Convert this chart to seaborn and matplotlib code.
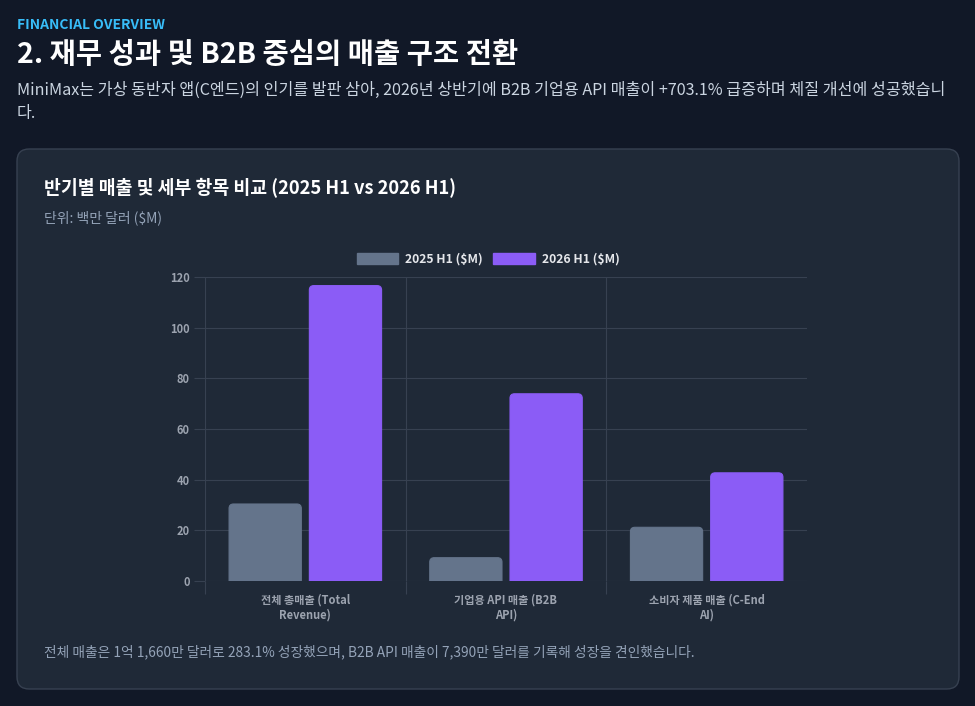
import matplotlib
matplotlib.use("Agg")
import matplotlib.pyplot as plt
from matplotlib.patches import FancyBboxPatch, Patch
import seaborn as sns
import pandas as pd

# data
categories = ["전체 총매출 (Total\nRevenue)", "기업용 API 매출 (B2B\nAPI)", "소비자 제품 매출 (C-End\nAI)"]
series_names = ["2025 H1 ($M)", "2026 H1 ($M)"]
values_2025 = [30.4, 9.2, 21.2]
values_2026 = [116.6, 73.9, 42.7]
y_ticks = [0, 20, 40, 60, 80, 100, 120]

df = pd.DataFrame({
    "category": categories * 2,
    "period": [series_names[0]] * 3 + [series_names[1]] * 3,
    "value": values_2025 + values_2026,
})

BG = "#111827"
CARD = "#1f2937"
GRID = "#374151"
GRAY = "#64748b"
PURPLE = "#8b5cf6"
TICK = "#9ca3af"

sns.set_theme(style="dark")
plt.rcParams["font.family"] = ["Noto Sans CJK KR", "DejaVu Sans"]

W, H = 975, 706
fig = plt.figure(figsize=(W / 100, H / 100), dpi=100, facecolor=BG)

def fx(px):
    return px / W

def fy(py):
    return 1 - py / H

# card background
card = FancyBboxPatch((fx(17), fy(689)), fx(942), 540 / H,
                      boxstyle="round,pad=0,rounding_size=0.0125",
                      mutation_aspect=W / H, transform=fig.transFigure,
                      facecolor=CARD, edgecolor=GRID, linewidth=1, zorder=-5)
fig.patches.append(card)

# header texts
fig.text(fx(17), fy(25), "FINANCIAL OVERVIEW", color="#38bdf8", fontsize=10,
         fontweight="bold", va="center")
fig.text(fx(17), fy(55), "2. 재무 성과 및 B2B 중심의 매출 구조 전환", color="white",
         fontsize=20.5, fontweight="bold", va="center")
fig.text(fx(17), fy(102),
         "MiniMax는 가상 동반자 앱(C엔드)의 인기를 발판 삼아, 2026년 상반기에 B2B 기업용 API 매출이 +703.1% 급증하며 체질 개선에 성공했습니\n다.",
         color="#cbd5e1", fontsize=11.6, va="center", linespacing=1.45)
fig.text(fx(44), fy(188), "반기별 매출 및 세부 항목 비교 (2025 H1 vs 2026 H1)", color="white",
         fontsize=13.2, fontweight="bold", va="center")
fig.text(fx(44), fy(218), "단위: 백만 달러 ($M)", color="#94a3b8", fontsize=10, va="center")
fig.text(fx(44), fy(652),
         "전체 매출은 1억 1,660만 달러로 283.1% 성장했으며, B2B API 매출이 7,390만 달러를 기록해 성장을 견인했습니다.",
         color="#94a3b8", fontsize=9.9, va="center")

# chart
ax = fig.add_axes([fx(205), fy(581), fx(602), 304 / H], zorder=2)
ax.set_facecolor(CARD)
sns.barplot(data=df, x="category", y="value", hue="period",
            palette=[GRAY, PURPLE], width=0.8, gap=0.1, ax=ax, legend=False,
            saturation=1)

ax.set_xlim(-0.5, 2.5)
ax.set_ylim(0, 120)
ax.set_yticks(y_ticks)
ax.set_xlabel("")
ax.set_ylabel("")

# round the top corners of the bars
fig.canvas.draw()
bb = ax.get_window_extent()
aspect = (bb.width / 3) / (bb.height / 120)
for p in list(ax.patches):
    x, w, h = p.get_x(), p.get_width(), p.get_height()
    c = p.get_facecolor()
    p.remove()
    ax.add_patch(FancyBboxPatch((x, -3), w, h + 3,
                                boxstyle="round,pad=0,rounding_size=0.022",
                                mutation_aspect=aspect, facecolor=c,
                                edgecolor=c, linewidth=0.8, zorder=3))

for s in ax.spines.values():
    s.set_visible(False)

ax.set_xticks([-0.5, 0.5, 1.5], minor=True)
ax.grid(axis="y", which="major", color=GRID, linewidth=0.8)
ax.grid(axis="x", which="minor", color=GRID, linewidth=0.8)
ax.grid(axis="x", which="major", visible=False)
ax.set_axisbelow(True)
ax.tick_params(axis="y", left=True, length=8, color=GRID, labelcolor=TICK, labelsize=8, pad=3, width=0.8)
ax.tick_params(axis="x", which="major", bottom=False, length=0, labelcolor=TICK, labelsize=8, pad=9)
ax.tick_params(axis="x", which="minor", bottom=True, length=9, color=GRID, width=0.8)
for lab in ax.get_xticklabels() + ax.get_yticklabels():
    lab.set_fontweight("bold")
for lab in ax.get_xticklabels():
    lab.set_linespacing(1.2)

handles = [Patch(facecolor=GRAY, edgecolor=GRAY), Patch(facecolor=PURPLE, edgecolor=PURPLE)]
leg = fig.legend(handles, series_names, loc="center", bbox_to_anchor=(fx(488), fy(259)),
                 ncol=2, frameon=False, fontsize=8.8, handlelength=3.4, handleheight=1.05,
                 columnspacing=0.9, handletextpad=0.55)
for t in leg.get_texts():
    t.set_color("#e5e7eb")
    t.set_fontweight("bold")

fig.savefig("out.png", dpi=100, facecolor=BG)
